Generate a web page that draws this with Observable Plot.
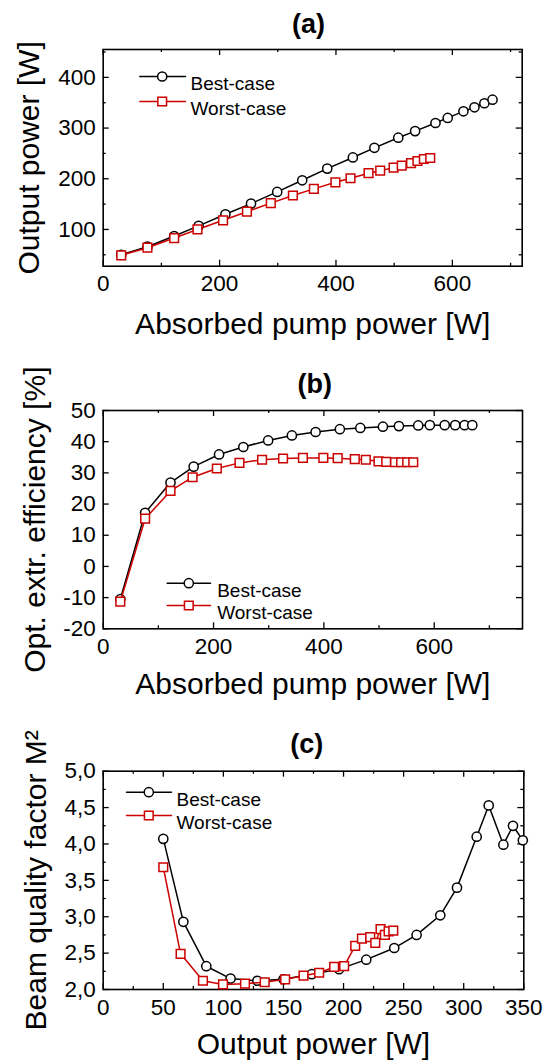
<!DOCTYPE html>
<html><head><meta charset="utf-8">
<script src="https://cdn.jsdelivr.net/npm/d3@7"></script>
<script src="https://cdn.jsdelivr.net/npm/@observablehq/plot@0.6"></script>
<style>
body{margin:0;background:#fff;}
#wrap{position:relative;width:546px;height:1061px;font-family:"Liberation Sans",Arial,sans-serif;background:#fff;}
.title{position:absolute;font-weight:bold;font-size:27px;line-height:30px;text-align:center;width:80px;color:#000;}
.panel{position:absolute;left:0;}
</style></head><body><div id="wrap"></div>
<script>
// ---- Data ----
const seriesNames = ["Best-case", "Worst-case"];
// (a) absorbed pump power vs output power
const pumpBest  = [31, 76, 122, 164, 210, 254, 299, 342, 385, 429, 466, 507, 536, 571, 592, 619, 638, 655, 669];
const outBest   = [50, 66, 87, 107, 130, 151, 174, 197, 220, 242, 261, 281, 294, 310, 320, 333, 341, 349, 356];
const pumpWorst = [31, 76, 122, 162, 206, 247, 288, 326, 362, 399, 425, 456, 476, 499, 513, 529, 540, 551, 562];
const outWorst  = [49, 64, 83, 100, 118, 135, 152, 167, 180, 193, 201, 211, 216, 222, 226, 231, 235, 239, 241];
// (b) optical extraction efficiency [%]
const effBest  = [-10.5, 17.2, 26.9, 32.0, 35.9, 38.3, 40.4, 42.0, 43.1, 44.0, 44.4, 44.8, 45.0, 45.2, 45.3, 45.3, 45.3, 45.3, 45.3];
const effWorst = [-11.3, 15.3, 24.2, 28.6, 31.4, 33.2, 34.2, 34.6, 34.8, 34.8, 34.7, 34.4, 34.2, 33.7, 33.5, 33.4, 33.4, 33.4, 33.4];
// (c) beam quality factor vs output power
const m2PowBest  = [50, 66.7, 85.8, 106, 128.3, 150, 173.6, 196.3, 218.9, 242.2, 260.8, 280.5, 294.4, 310.8, 320.8, 333, 341, 349.2];
const m2Best     = [4.07, 2.93, 2.32, 2.15, 2.12, 2.14, 2.21, 2.28, 2.41, 2.57, 2.75, 3.02, 3.40, 4.10, 4.53, 3.99, 4.25, 4.05];
const m2PowWorst = [50, 64.4, 83, 99.7, 118, 134.4, 151.4, 166.7, 179.7, 192.2, 200.5, 209.7, 215.3, 222.2, 226.4, 230.8, 234.4, 237.5, 241.4];
const m2Worst    = [3.68, 2.49, 2.12, 2.07, 2.08, 2.10, 2.14, 2.19, 2.23, 2.31, 2.32, 2.60, 2.70, 2.72, 2.64, 2.83, 2.75, 2.80, 2.81];

// tick values
const pumpMajor = [0, 200, 400, 600];
const pumpMinor = [100, 300, 500, 700];
const outMajorA = [100, 200, 300, 400];
const outMinorA = [50, 150, 250, 350, 450];
const effMajor  = [-20, -10, 0, 10, 20, 30, 40, 50];
const powMajor  = [0, 50, 100, 150, 200, 250, 300, 350];
const powMinor  = [25, 75, 125, 175, 225, 275, 325];
const m2Major   = [2.0, 2.5, 3.0, 3.5, 4.0, 4.5, 5.0];
const m2Minor   = [2.25, 2.75, 3.25, 3.75, 4.25, 4.75];

const RED = "#cc0000";
const FONT = "'Liberation Sans', Arial, sans-serif";
const lineShape = {draw(c, l) { c.moveTo(0, 0); c.lineTo(0, -l); }};

function panel(o) {
  const W = 546;
  const fw = W - o.ml - o.mr, fh = o.height - o.mt - o.mb;
  const M = 6, m = 3, tw = 1.3;
  const tickMarks = (xs, ys, len) => [
    Plot.tickX(xs, {x: d => d, insetTop: fh - len, strokeWidth: tw}),
    Plot.tickX(xs, {x: d => d, insetBottom: fh - len, strokeWidth: tw}),
    Plot.tickY(ys, {y: d => d, insetRight: fw - len, strokeWidth: tw}),
    Plot.tickY(ys, {y: d => d, insetLeft: fw - len, strokeWidth: tw})
  ];
  const L = o.legend;
  return Plot.plot({
    width: W, height: o.height,
    marginLeft: o.ml, marginRight: o.mr, marginTop: o.mt, marginBottom: o.mb,
    style: {fontFamily: FONT, color: "black", background: "white", overflow: "visible"},
    x: {domain: o.xDomain},
    y: {domain: o.yDomain},
    marks: [
      ...tickMarks(o.xMajor, o.yMajor, M),
      ...tickMarks(o.xMinor, o.yMinor, m),
      Plot.frame({stroke: "black", strokeWidth: 1.6}),
      Plot.axisX(o.xMajor, {tickSize: 0, tickPadding: 9.3, fontSize: 22.5, tickFormat: o.xFormat, label: null}),
      Plot.axisX([], {tickSize: 0, label: o.xLabel, labelAnchor: "center", labelOffset: o.xLabelOffset, labelArrow: "none", fontSize: 30}),
      Plot.axisY(o.yMajor, {tickSize: 0, tickPadding: 7.5, fontSize: 22.5, tickFormat: o.yFormat, label: null}),
      Plot.axisY([], {tickSize: 0, label: o.yLabel, labelAnchor: "center", labelOffset: o.yLabelOffset, labelArrow: "none", fontSize: 30}),
      // Best-case
      Plot.line(o.bx, {x: o.bx, y: o.by, stroke: "black", strokeWidth: 1.5}),
      Plot.dot(o.bx, {x: o.bx, y: o.by, r: 4.6, symbol: "circle", stroke: "black", fill: "white", strokeWidth: 1.5}),
      // Worst-case
      Plot.line(o.wx, {x: o.wx, y: o.wy, stroke: RED, strokeWidth: 1.5}),
      Plot.dot(o.wx, {x: o.wx, y: o.wy, r: 4.9, symbol: "square", stroke: RED, fill: "white", strokeWidth: 1.5}),
      // legend
      Plot.vector([0], {frameAnchor: "top-left", dx: L.lx, dy: L.yb, length: L.lw, rotate: 90, anchor: "start", shape: lineShape, stroke: "black", strokeWidth: 1.5}),
      Plot.dot([0], {frameAnchor: "top-left", dx: L.mx, dy: L.yb, r: 4.6, symbol: "circle", stroke: "black", fill: "white", strokeWidth: 1.5}),
      Plot.text([seriesNames[0]], {frameAnchor: "top-left", dx: L.tx, dy: L.yb, textAnchor: "start", fontSize: 19, fill: "black"}),
      Plot.vector([0], {frameAnchor: "top-left", dx: L.lx, dy: L.yw, length: L.lw, rotate: 90, anchor: "start", shape: lineShape, stroke: RED, strokeWidth: 1.5}),
      Plot.dot([0], {frameAnchor: "top-left", dx: L.mx, dy: L.yw, r: 4.9, symbol: "square", stroke: RED, fill: "white", strokeWidth: 1.5}),
      Plot.text([seriesNames[1]], {frameAnchor: "top-left", dx: L.tx, dy: L.yw, textAnchor: "start", fontSize: 19, fill: "black"})
    ]
  });
}

const wrap = document.getElementById("wrap");
function addTitle(text, cx, cy) {
  const d = document.createElement("div");
  d.className = "title";
  d.textContent = text;
  d.style.left = (cx - 40) + "px";
  d.style.top = (cy - 17.4) + "px";
  wrap.appendChild(d);
}
function addPanel(top, svg) {
  svg.classList.add("panel");
  svg.style.top = top + "px";
  svg.style.position = "absolute";
  wrap.appendChild(svg);
}

const intFmt = d => String(d);
const commaFmt = d => d.toFixed(1).replace(".", ",");

addTitle("(a)", 308.6, 26);
addPanel(40, panel({
  height: 320, ml: 102.7, mr: 24.3, mt: 9, mb: 94.3,
  xDomain: [0, 720], yDomain: [27.5, 455],
  xMajor: pumpMajor, xMinor: pumpMinor, yMajor: outMajorA, yMinor: outMinorA,
  xFormat: intFmt, yFormat: intFmt,
  xLabel: "Absorbed pump power [W]", yLabel: "Output power [W]",
  xLabelOffset: 67.6, yLabelOffset: 86,
  bx: pumpBest, by: outBest, wx: pumpWorst, wy: outWorst,
  legend: {lx: 36.6, lw: 45.7, mx: 59, tx: 87.3, yb: 27, yw: 52}
}));

addTitle("(b)", 314.7, 386);
addPanel(400, panel({
  height: 320, ml: 102.7, mr: 24, mt: 10, mb: 91.7,
  xDomain: [0, 760], yDomain: [-20, 50],
  xMajor: pumpMajor, xMinor: pumpMinor, yMajor: effMajor, yMinor: [],
  xFormat: intFmt, yFormat: intFmt,
  xLabel: "Absorbed pump power [W]", yLabel: "Opt. extr. efficiency [%]",
  xLabelOffset: 65, yLabelOffset: 80,
  bx: pumpBest, by: effBest, wx: pumpWorst, wy: effWorst,
  legend: {lx: 64, lw: 43.3, mx: 85.6, tx: 114, yb: 172.7, yw: 195}
}));

addTitle("(c)", 306.7, 746);
addPanel(760, panel({
  height: 301, ml: 102.7, mr: 22.7, mt: 10.7, mb: 72,
  xDomain: [0, 350], yDomain: [2, 5],
  xMajor: powMajor, xMinor: powMinor, yMajor: m2Major, yMinor: m2Minor,
  xFormat: intFmt, yFormat: commaFmt,
  xLabel: "Output power [W]", yLabel: "Beam quality factor M²",
  xLabelOffset: 64, yLabelOffset: 78.7,
  bx: m2PowBest, by: m2Best, wx: m2PowWorst, wy: m2Worst,
  legend: {lx: 23.3, lw: 45, mx: 45.6, tx: 73.3, yb: 21, yw: 44.3}
}));
</script></body></html>
